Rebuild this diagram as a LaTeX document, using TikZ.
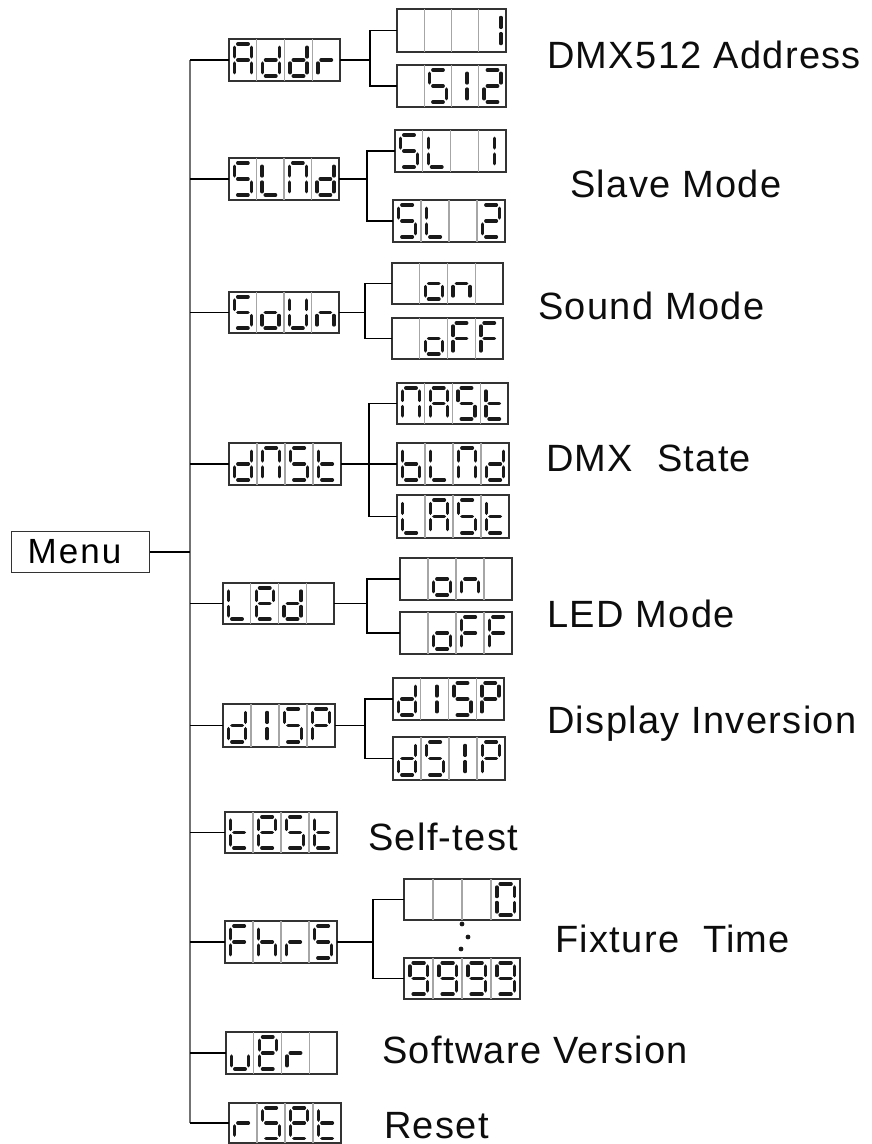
\documentclass[tikz,border=0pt]{standalone}
\usepackage{fontspec}
\setmainfont{Liberation Sans}
\newfontfamily\lblfont[LetterSpace=3.5]{Liberation Sans}
\newfontfamily\menufont[LetterSpace=6]{Liberation Sans}
\usetikzlibrary{calc}
\newcommand\defglyph[2]{\expandafter\def\csname glyph#1\endcsname{#2}}
\defglyph{A}{a,b,c,e,f,g}
\defglyph{d}{b,c,d,e,g}
\defglyph{r}{e,g}
\defglyph{S}{a,f,g,c,d}
\defglyph{L}{f,e,d}
\defglyph{N}{a,b,c,e,f}
\defglyph{o}{c,d,e,g}
\defglyph{U}{b,c,d,e,f}
\defglyph{n}{c,e,g}
\defglyph{F}{a,e,f,g}
\defglyph{t}{d,e,f,g}
\defglyph{b}{c,d,e,f,g}
\defglyph{P}{a,b,e,f,g}
\defglyph{h}{c,e,f,g}
\defglyph{u}{c,d,e}
\defglyph{E}{a,b,d,e,f,g}
\defglyph{0}{a,b,c,d,e,f}
\defglyph{9}{a,b,c,d,f,g}
\defglyph{1}{b,c}
\defglyph{2}{a,b,d,e,g}
\defglyph{I}{i}
\defglyph{-}{z}
\def\sgma{\draw[seg] (8.8,5)--(19.2,5);}
\def\sgmb{\draw[seg] (22.5,8.3)--(22.5,17.9);}
\def\sgmc{\draw[seg] (22.5,24.1)--(22.5,33.7);}
\def\sgmd{\draw[seg] (8.8,37)--(19.2,37);}
\def\sgme{\draw[seg] (5.5,24.1)--(5.5,33.7);}
\def\sgmf{\draw[seg] (5.5,8.3)--(5.5,17.9);}
\def\sgmg{\draw[seg] (8.8,21)--(19.2,21);}
\def\sgmi{\draw[seg] (16,8.3)--(16,17.9); \draw[seg] (16,24.1)--(16,33.7);}
\def\sgmz{}
% name, x1, y1, x2, y2, glyphs
\newcommand\dispbox[6]{%
  \node[disp, minimum width={(#4)-(#2)}, minimum height={(#5)-(#3)}, anchor=north west] (#1) at (#2,#3) {};
  \foreach \k in {1,2,3}
    \draw[divider] ($(#1.north west)!\k/4!(#1.north east)$) -- ($(#1.south west)!\k/4!(#1.south east)$);
  \foreach \g [count=\i from 0] in {#6} {
    \pgfmathsetmacro\cx{#2+\i*((#4)-(#2))/4}
    \pgfmathsetmacro\sx{((#4)-(#2))/4/27.75}
    \pgfmathsetmacro\sy{((#5)-(#3))/42}
    \begin{scope}[shift={(\cx,#3)}, xscale=\sx, yscale=\sy]
      \expandafter\let\expandafter\glist\csname glyph\g\endcsname
      \foreach \s in \glist {\csname sgm\s\endcsname}
    \end{scope}
  }
}
\begin{document}
\begin{tikzpicture}[x=1pt, y=-1pt,
  disp/.style={draw=black!80, line width=1.2pt, inner sep=0pt, outer sep=0pt},
  divider/.style={draw=black!35, line width=1.1pt},
  seg/.style={line width=3.5pt, line cap=round, black!90},
  wire/.style={line width=1.8pt, black},
  trunk/.style={line width=2pt, black!55},
  lbl/.style={anchor=base west, inner sep=0pt, font=\lblfont\fontsize{38}{40}\selectfont, text=black!95}]
\useasboundingbox (0,0) rectangle (871,1144);
\coordinate (trunk) at (190,0);
% menu
\node[draw=black!80, line width=1.2pt, anchor=north west, minimum height=41pt,
      text width=106pt, inner xsep=16pt, inner ysep=0pt, align=left,
      font=\menufont\fontsize{35}{37}\selectfont] (menu) at (11,531) {Menu};
% main displays
\dispbox{addr}{229}{39}{340}{81}{A,d,d,r}
\dispbox{slnd}{229}{158}{339}{200}{S,L,N,d}
\dispbox{soun}{229}{292}{339}{333}{S,o,U,n}
\dispbox{dnst}{229}{443}{341}{485}{d,N,S,t}
\dispbox{led}{223}{583}{334}{624}{L,E,d,-}
\dispbox{disp}{223}{704}{335}{747}{d,I,S,P}
\dispbox{test}{225}{812}{337}{853}{t,E,S,t}
\dispbox{fhrs}{225}{921}{337}{963}{F,h,r,S}
\dispbox{ver}{226}{1032}{337}{1074}{u,E,r,-}
\dispbox{rset}{229}{1103}{341}{1143}{r,S,E,t}
% sub displays
\dispbox{a1}{397}{9}{506}{52}{-,-,-,1}
\dispbox{a2}{397}{65}{506}{107}{-,S,I,2}
\dispbox{s1}{395}{130}{506}{172}{S,L,-,I}
\dispbox{s2}{393}{200}{505}{242}{S,L,-,2}
\dispbox{o1}{392}{263}{503}{304}{-,o,n,-}
\dispbox{o2}{392}{318}{503}{359}{-,o,F,F}
\dispbox{n1}{397}{383}{508}{424}{N,A,S,t}
\dispbox{n2}{397}{443}{509}{485}{b,L,N,d}
\dispbox{n3}{397}{495}{509}{538}{L,A,S,t}
\dispbox{l1}{400}{558}{512}{600}{-,o,n,-}
\dispbox{l2}{400}{612}{512}{654}{-,o,F,F}
\dispbox{d1}{393}{678}{504}{720}{d,I,S,P}
\dispbox{d2}{393}{737}{505}{780}{d,S,I,P}
\dispbox{f1}{404}{879}{520}{920}{-,-,-,0}
\dispbox{f2}{404}{958}{520}{999}{9,9,9,9}
% trunk and rows
\draw[trunk] (addr.west -| trunk) -- (rset.west -| trunk);
\draw[wire] (menu.east) -- (menu.east -| trunk);
\foreach \r in {addr,slnd,soun,dnst,led,disp,test,fhrs,ver,rset}
  \draw[wire] (\r.west -| trunk) -- (\r.west);
% branches
\path (addr.east) ++(30,0) coordinate (ba);
\draw[wire] (addr.east) -- (ba);
\draw[wire] (a1.west) -| (ba) |- (a2.west);
\path (slnd.east) ++(28,0) coordinate (bs);
\draw[wire] (slnd.east) -- (bs);
\draw[wire] (s1.west) -| (bs) |- (s2.west);
\path (soun.east) ++(26,0) coordinate (bo);
\draw[wire] (soun.east) -- (bo);
\draw[wire] (o1.west) -| (bo) |- (o2.west);
\path (dnst.east) ++(28,0) coordinate (bn);
\draw[wire] (dnst.east) -- (n2.west);
\draw[wire] (n1.west) -| (bn) |- (n3.west);
\path (led.east) ++(33,0) coordinate (bl);
\draw[wire] (led.east) -- (bl);
\draw[wire] (l1.west) -| (bl) |- (l2.west);
\path (disp.east) ++(30,0) coordinate (bd);
\draw[wire] (disp.east) -- (bd);
\draw[wire] (d1.west) -| (bd) |- (d2.west);
\path (fhrs.east) ++(36,0) coordinate (bf);
\draw[wire] (fhrs.east) -- (bf);
\draw[wire] (f1.west) -| (bf) |- (f2.west);
% dots
\fill[black!90] (462,924) circle (2.4) (468,937) circle (2.4) (461,949) circle (2.4);
% labels
\node[lbl] (t1) at (547,68) {DMX512 Address};
\node[lbl] (t2) at (570,197) {Slave Mode};
\node[lbl] (t3) at (538,319) {Sound Mode};
\node[lbl] (t4) at (546,471) {DMX\ \ State};
\node[lbl] (t5) at (547,627) {LED Mode};
\node[lbl] (t6) at (547,733) {Display Inversion};
\node[lbl] (t7) at (368,850) {Self-test};
\node[lbl] (t8) at (555,952) {Fixture\ \ Time};
\node[lbl] (t9) at (382,1063) {Software Version};
\node[lbl] (t10) at (384,1138) {Reset};
\end{tikzpicture}
\end{document}
